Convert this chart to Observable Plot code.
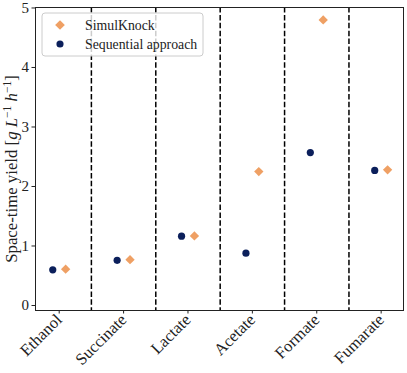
<!DOCTYPE html>
<html><head><meta charset="utf-8">
<script src="https://cdn.jsdelivr.net/npm/d3@7"></script>
<script src="https://cdn.jsdelivr.net/npm/@observablehq/plot@0.6"></script>
<style>
body{margin:0;background:#fff;}
#chart{position:relative;width:407px;height:373px;}
#chart svg text{font-family:"Liberation Serif", "DejaVu Serif", serif !important;}
</style>
</head><body><div id="chart"></div>
<script>
const categories = ["Ethanol","Succinate","Lactate","Acetate","Formate","Fumarate"];
const simulKnock = [0.61, 0.77, 1.17, 2.25, 4.80, 2.28];
const sequential = [0.60, 0.76, 1.165, 0.88, 2.57, 2.27];
const yTicks = [0,1,2,3,4,5];
const seriesNames = ["SimulKnock","Sequential approach"];
const colors = {"SimulKnock":"#EFA064","Sequential approach":"#0B1F5B"};

const seqData = categories.map((c,i)=>({i, c, v: sequential[i]}));
const skData = categories.map((c,i)=>({i, c, v: simulKnock[i]}));
const separators = categories.slice(1).map((c,i)=>({pos: i + 0.5}));

const font = "Liberation Serif, DejaVu Serif, serif";
const off = 0.1;

const plot = Plot.plot({
  width: 407, height: 373,
  marginLeft: 35, marginRight: 4, marginTop: 7, marginBottom: 63,
  style: {fontFamily: font, fontSize: "13px", background: "#fff", color: "#222", overflow: "visible"},
  x: {type: "linear", domain: [-0.368, 5.347], label: null},
  y: {domain: [-0.084, 5.008], label: null},
  marks: [
    Plot.axisX(categories.map((c,i)=>i), {tickFormat: i => categories[i], tickRotate: -45, tickSize: 3.5, tickPadding: 3, fontSize: 16.5, label: null}),
    Plot.axisY(yTicks, {tickFormat: d => String(d), tickSize: 3.5, tickPadding: 3, fontSize: 15, label: null}),
    Plot.ruleX(separators, {x: "pos", stroke: "#000", strokeWidth: 1.5, strokeDasharray: "5.5,2.4"}),
    Plot.dot(seqData, {x: d => d.i - off, y: "v", r: 3.6, fill: colors["Sequential approach"], stroke: "none"}),
    Plot.dot(skData, {x: d => d.i + off, y: "v", r: 4.2, symbol: "diamond2", fill: colors["SimulKnock"], stroke: "none"}),
    Plot.frame({stroke: "#222", strokeWidth: 1})
  ]
});
document.getElementById("chart").appendChild(plot);

const svg = d3.select(plot);
// y label
const yl = svg.append("text")
  .attr("transform", "translate(16.5,169) rotate(-90)")
  .attr("text-anchor", "middle")
  .attr("font-size", 16.8).attr("fill", "#222");
yl.append("tspan").text("Space-time yield [");
yl.append("tspan").attr("font-style","italic").text("g L");
yl.append("tspan").attr("font-size", 11.5).attr("dy", -6).text("−1");
yl.append("tspan").attr("font-style","italic").attr("dy", 6).text(" h");
yl.append("tspan").attr("font-size", 11.5).attr("dy", -6).text("−1");
yl.append("tspan").attr("dy", 6).text("]");

// legend
const lg = svg.append("g").attr("font-size", 13.8).attr("fill", "#222").attr("text-anchor", "start");
lg.append("rect").attr("x", 42).attr("y", 13).attr("width", 161).attr("height", 43).attr("rx", 3)
  .attr("fill", "#fff").attr("fill-opacity", 0.8).attr("stroke", "#ccc");
seriesNames.forEach((name, k) => {
  const cy = 25 + k * 19;
  const sym = d3.symbol().type(k === 0 ? d3.symbolDiamond2 : d3.symbolCircle).size(k === 0 ? 60 : 40);
  lg.append("path").attr("d", sym()).attr("transform", `translate(60,${cy})`).attr("fill", colors[name]);
  lg.append("text").attr("x", 85).attr("y", cy).attr("dy", "0.35em").attr("text-anchor", "start").text(name);
});
</script>
</body></html>
